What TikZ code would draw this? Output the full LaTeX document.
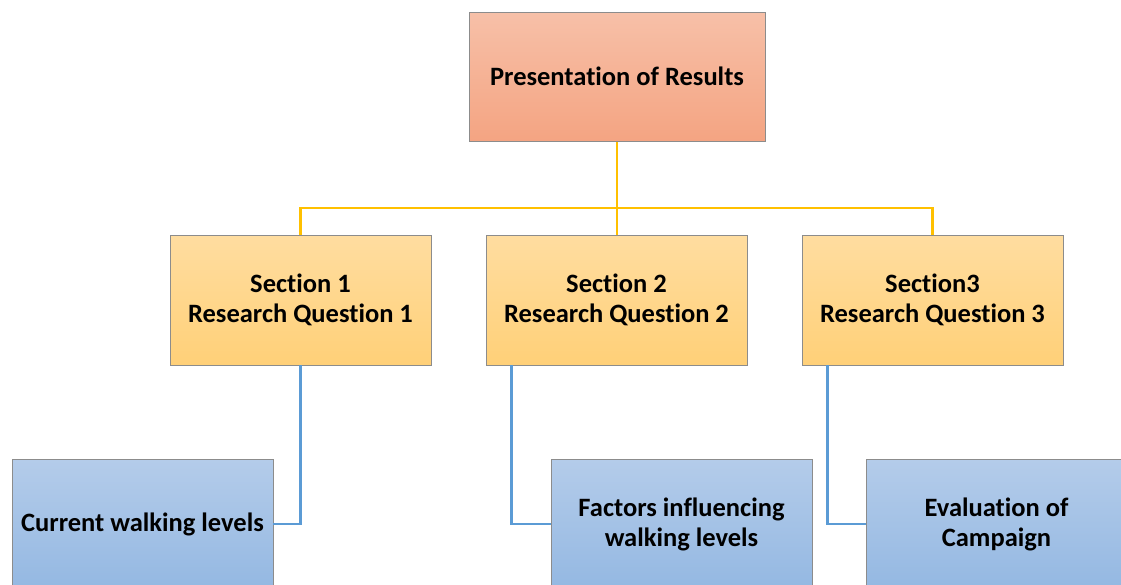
\documentclass[tikz,border=0pt]{standalone}
\usepackage{fontspec}
\setmainfont{Carlito}[Ligatures=NoCommon]
\usetikzlibrary{calc}
\definecolor{boxedge}{RGB}{140,140,140}
\definecolor{salmontop}{RGB}{247,192,168}
\definecolor{salmonbot}{RGB}{244,164,130}
\definecolor{goldtop}{RGB}{255,221,160}
\definecolor{goldbot}{RGB}{255,208,120}
\definecolor{bluetop}{RGB}{180,204,234}
\definecolor{bluebot}{RGB}{148,184,226}
\definecolor{ylink}{RGB}{255,192,0}
\definecolor{blink}{RGB}{91,155,213}
\tikzset{
  box/.style={draw=boxedge, line width=0.9pt, rectangle, align=center,
    font=\bfseries\fontsize{26.5}{30}\selectfont, text=black, inner sep=0pt},
  topbox/.style={box, top color=salmontop, bottom color=salmonbot,
    minimum width=296pt, minimum height=129pt},
  secbox/.style={box, top color=goldtop, bottom color=goldbot,
    minimum width=261pt, minimum height=130pt},
  leafbox/.style={box, top color=bluetop, bottom color=bluebot,
    minimum width=261pt, minimum height=130pt},
  ylinkline/.style={draw=ylink, line width=2.2pt},
  blinkline/.style={draw=blink, line width=2.2pt},
}
\begin{document}
\begin{tikzpicture}[x=1pt, y=-1pt]
\useasboundingbox (0,0) rectangle (1121,584);
\clip (0,0) rectangle (1121,584);
\fill[white] (0,0) rectangle (1121,584);

% connectors first, boxes drawn over them
\coordinate (bus) at (617,208);
\coordinate (top-anchor) at (617,141);
\coordinate (s1-top) at (300.5,235);
\coordinate (s2-top) at (617,235);
\coordinate (s3-top) at (932.5,235);
\draw[ylinkline] (top-anchor) -- (s2-top);
\draw[ylinkline] (s1-top) |- (bus) -| (s3-top);

% section boxes
\node[secbox] (s1) at (300.5,300) {Section 1\\Research Question 1};
\node[secbox] (s2) at (616.5,300) {Section 2\\Research Question 2};
\node[secbox] (s3) at (932.5,300) {Section3\\Research Question 3};

% leaf boxes (run past the lower edge)
\node[leafbox] (b1) at (142.5,524) {Current walking levels};
\node[leafbox] (b2) at (681.5,524) {Factors influencing\\walking levels};
\node[leafbox] (b3) at (996.5,524) {Evaluation of\\Campaign};

% leaf connectors
\draw[blinkline] (s1.south) |- (b1.east);
\draw[blinkline] ($(s2.south west)+(26,0)$) |- (b2.west);
\draw[blinkline] ($(s3.south west)+(26,0)$) |- (b3.west);

% top box
\node[topbox] (top) at (617,76.5) {Presentation of Results};
\end{tikzpicture}
\end{document}
